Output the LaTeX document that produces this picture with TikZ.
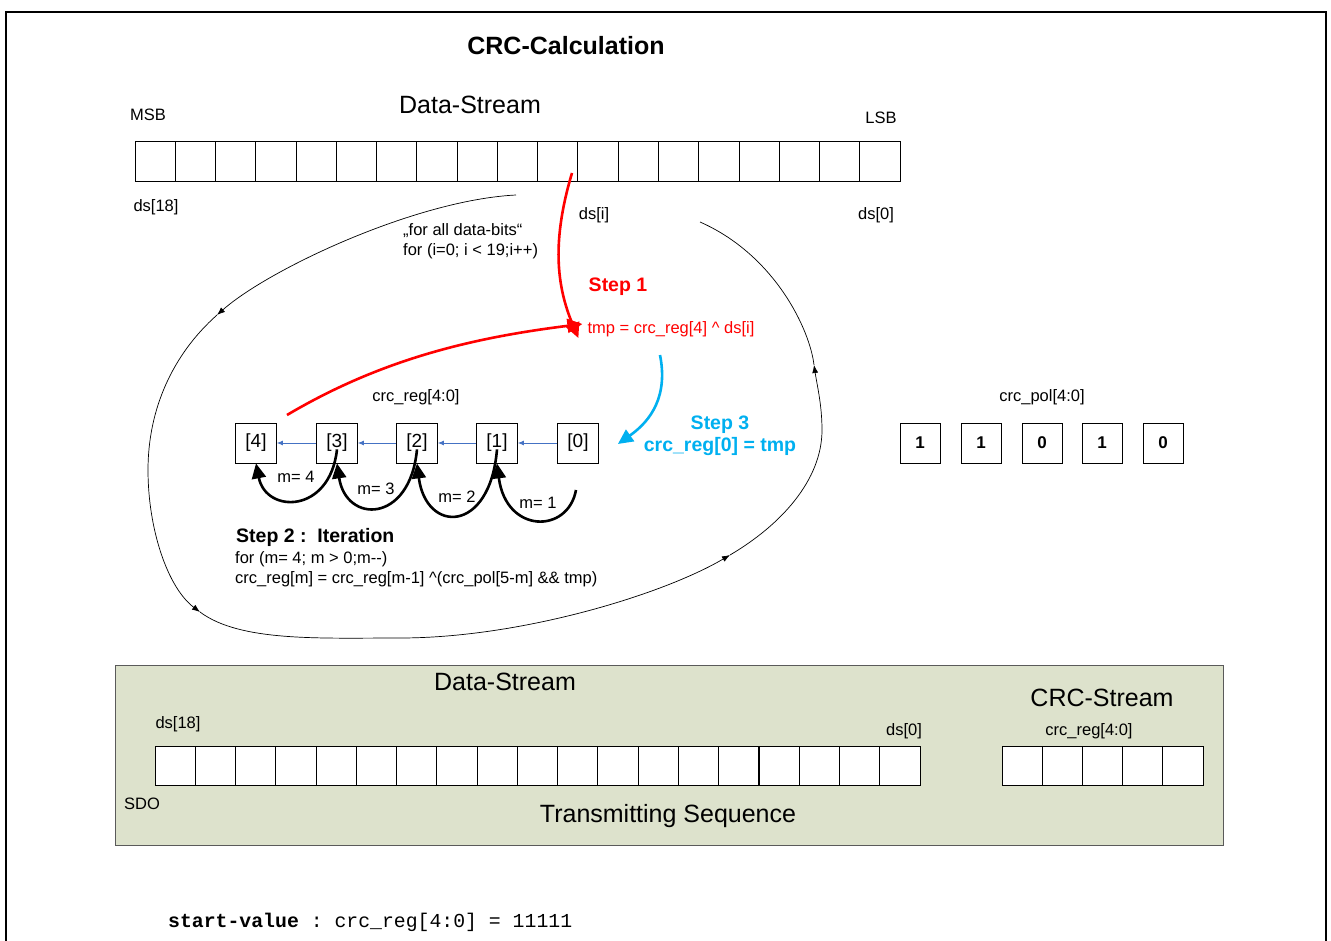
\documentclass[tikz,border=0pt]{standalone}
\usepackage{fontspec}
\setmainfont{Liberation Sans}
\setmonofont{Liberation Mono}
\usetikzlibrary{arrows.meta}
\definecolor{stepred}{RGB}{255,0,0}
\definecolor{stepblue}{RGB}{0,176,240}
\definecolor{regblue}{RGB}{68,114,196}
\definecolor{seqfill}{RGB}{221,226,204}
\definecolor{seqdraw}{RGB}{90,90,90}
\newcommand{\myfs}[1]{\fontsize{#1}{#1}\selectfont}
\begin{document}
\begin{tikzpicture}[x=1pt,y=-1pt,
  cell/.style={draw, line width=0.8pt, minimum width=40.26pt, minimum height=40pt, inner sep=0pt, outer sep=0pt, fill=white},
  scell/.style={cell, minimum width=40.2pt, minimum height=39pt},
  regbox/.style={draw, line width=0.8pt, minimum width=41pt, minimum height=40pt, inner sep=0pt, font={\myfs{19}}},
  polbox/.style={regbox, minimum width=40pt, font={\myfs{17}\bfseries}},
  lbl/.style={font={\myfs{16.5}}, inner sep=0pt},
  big/.style={font={\myfs{25}}, inner sep=0pt},
  boldlbl/.style={font={\myfs{19.5}\bfseries}, inner sep=0pt},
  thick arrow/.style={line width=2.6pt, -{Triangle[length=15pt,width=14pt]}},
  regarrow/.style={draw=regblue, line width=0.8pt, -{Latex[length=6pt,width=5pt]}},
  loopline/.style={line width=0.7pt},
  looparrow/.style={loopline, -{Latex[length=8pt,width=6pt]}}
]
\useasboundingbox (0,0) rectangle (1331,941);
\fill[white] (0,0) rectangle (1331,941);
% frame
\draw[line width=2.5pt] (6,950) -- (6,12) -- (1326,12) -- (1326,950);

% title
\node[font={\myfs{25}\bfseries}, inner sep=0pt] (title) at (566,46) {CRC-Calculation};

% top data stream
\node[big] (dstop) at (470,105) {Data-Stream};
\node[lbl] (msb) at (148,115) {MSB};
\node[lbl] (lsb) at (881,118) {LSB};
\foreach \k in {0,...,18} {
  \node[cell] (t\k) at ({155.13+\k*40.26},161) {};
}
\node[lbl] (ds18) at (156,207) {ds[18]};
\node[lbl] (dsi) at (594,215) {ds[i]};
\node[lbl] (ds0) at (876,215) {ds[0]};
\node[lbl, align=left, anchor=west] (forall) at (403,241) {„for all data-bits“\\[3pt]for (i=0; i < 19;i++)};

% big loop (for all data bits)
\coordinate (L0) at (516,195);
\coordinate (L1) at (217,315);
\coordinate (L2) at (148,470);
\coordinate (L3) at (200,612);
\coordinate (L4) at (400,638);
\coordinate (L5) at (730,555);
\coordinate (L6) at (822,430);
\coordinate (L7) at (814,365);
\coordinate (L8) at (700,222);
\draw[looparrow] (L0) .. controls (416,200) and (269,269) .. (L1);
\draw[looparrow] (L1) .. controls (172,355) and (148,410) .. (L2) .. controls (148,530) and (168,588) .. (L3);
\draw[looparrow] (L3) .. controls (240,642) and (320,638) .. (L4) .. controls (520,638) and (662,595) .. (L5);
\draw[looparrow] (L5) .. controls (781,525) and (822,480) .. (L6) .. controls (822,405) and (817,385) .. (L7);
\draw[loopline] (L7) .. controls (810,330) and (775,255) .. (L8);

% step 1
\node[boldlbl, text=stepred] (step1) at (618,287) {Step 1};
\node[lbl, text=stepred] (tmp) at (671,329) {tmp = crc\_reg[4] \textasciicircum{} ds[i]};
\coordinate (s1) at (572,173);
\draw[thick arrow, draw=stepred] (s1) .. controls (552,240) and (556,285) .. ([xshift=-9pt,yshift=-9pt]tmp.west);

% register
\node[lbl] (reglbl) at (416,397) {crc\_reg[4:0]};
\node[regbox] (r4) at (256,443) {[4]};
\node[regbox] (r3) at (337,443) {[3]};
\node[regbox] (r2) at (417,443) {[2]};
\node[regbox] (r1) at (497,443) {[1]};
\node[regbox] (r0) at (578,443) {[0]};
\draw[regarrow] (r0) -- (r1);
\draw[regarrow] (r1) -- (r2);
\draw[regarrow] (r2) -- (r3);
\draw[regarrow] (r3) -- (r4);

% red arrow from [4] to tmp
\coordinate (r4out) at (287,415);
\draw[thick arrow, draw=stepred] (r4out) .. controls (380,360) and (470,338) .. ([xshift=-5pt,yshift=5pt]tmp.west);

% step 3
\coordinate (b1) at (660,355);
\node[boldlbl, text=stepblue, align=center] (step3) at (720,436) {Step 3\\[3pt]crc\_reg[0] = tmp};
\draw[thick arrow, draw=stepblue] (b1) .. controls (668,395) and (652,420) .. ([xshift=19pt,yshift=-1pt]r0.east);

% iteration arcs
\coordinate (m1s) at (576,490);
\draw[thick arrow] (m1s) .. controls (568,534) and (506,534) .. (r1.south);
\draw[thick arrow] ([yshift=14pt]r1.south) .. controls (490,534) and (426,534) .. (r2.south);
\draw[thick arrow] ([yshift=14pt]r2.south) .. controls (410,524) and (346,524) .. (r3.south);
\draw[thick arrow] ([yshift=14pt]r3.south) .. controls (330,514) and (266,514) .. (r4.south);
\node[lbl] (m4) at (296,477) {m= 4};
\node[lbl] (m3) at (376,489) {m= 3};
\node[lbl] (m2) at (457,497) {m= 2};
\node[lbl] (m1) at (538,503) {m= 1};

% step 2
\node[boldlbl, anchor=west] (step2) at (236,537) {Step 2 :\ \ Iteration};
\node[lbl, anchor=west] (form) at (235,559) {for (m= 4; m > 0;m-{}-)};
\node[lbl, anchor=west] (formula) at (235,579) {crc\_reg[m] = crc\_reg[m-1] \textasciicircum(crc\_pol[5-m] \&\& tmp)};

% polynomial
\node[lbl] (pollbl) at (1042,397) {crc\_pol[4:0]};
\node[polbox] (p4) at (920,443) {1};
\node[polbox] (p3) at (981,443) {1};
\node[polbox] (p2) at (1042,443) {0};
\node[polbox] (p1) at (1102,443) {1};
\node[polbox] (p0) at (1163,443) {0};

% transmitting sequence
\node[draw=seqdraw, fill=seqfill, line width=0.8pt, minimum width=1108pt, minimum height=180pt, inner sep=0pt] (seq) at (669,755) {};
\node[big] (dsbot) at (505,682) {Data-Stream};
\node[big] (crcs) at (1102,698) {CRC-Stream};
\node[lbl] (bds18) at (178,724) {ds[18]};
\node[lbl] (bds0) at (904,731) {ds[0]};
\node[lbl] (bcrc) at (1089,731) {crc\_reg[4:0]};
\foreach \k in {0,...,18} {
  \node[scell] (b\k) at ({175.13+\k*40.26},765.5) {};
}
\foreach \k in {0,...,4} {
  \node[scell] (c\k) at ({1022.1+\k*40.2},765.5) {};
}
\node[lbl] (sdo) at (142,804) {SDO};
\node[big] (trans) at (668,816) {Transmitting Sequence};

% start value
\node[anchor=base west, inner sep=0pt, font={\myfs{19.8}\ttfamily}] (startv) at (168,927) {\textbf{start-value} : crc\_reg[4:0] = 11111};
\end{tikzpicture}
\end{document}
